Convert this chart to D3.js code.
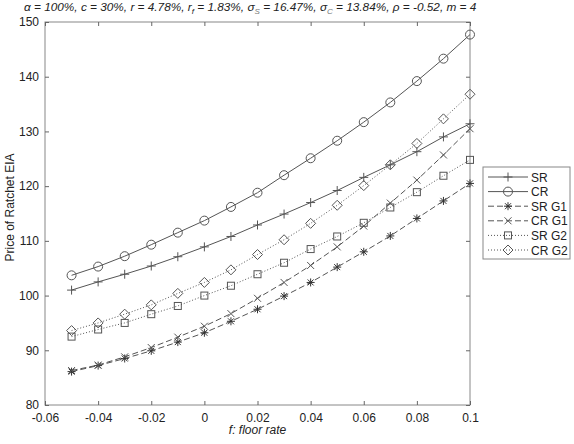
<!DOCTYPE html>
<html>
<head>
<meta charset="utf-8">
<script src="https://cdn.jsdelivr.net/npm/d3@7"></script>
<style>
body { margin: 0; background: #fff; }
text { font-family: Arial, "Liberation Sans", sans-serif; fill: #222; }
</style>
</head>
<body>
<div class="canva"></div>
<script>
const floorRate = [-0.05, -0.04, -0.03, -0.02, -0.01, 0, 0.01, 0.02, 0.03, 0.04, 0.05, 0.06, 0.07, 0.08, 0.09, 0.1];

const SR   = [101.0, 102.5, 103.9, 105.4, 107.1, 108.9, 110.8, 112.9, 114.9, 117.0, 119.2, 121.6, 123.9, 126.3, 129.0, 131.4];
const CR   = [103.7, 105.3, 107.2, 109.3, 111.5, 113.7, 116.2, 118.8, 122.0, 125.1, 128.3, 131.7, 135.3, 139.2, 143.3, 147.7];
const SRG1 = [86.1, 87.2, 88.5, 89.9, 91.5, 93.2, 95.3, 97.5, 99.9, 102.4, 105.2, 108.0, 110.9, 114.1, 117.3, 120.5];
const CRG1 = [86.3, 87.3, 88.8, 90.5, 92.4, 94.4, 96.7, 99.5, 102.4, 105.5, 108.9, 112.7, 116.9, 121.1, 125.7, 130.5];
const SRG2 = [92.5, 93.8, 95.0, 96.6, 98.1, 100.0, 101.8, 103.9, 106.0, 108.5, 110.8, 113.3, 116.1, 118.9, 121.9, 124.8];
const CRG2 = [93.6, 95.0, 96.6, 98.3, 100.4, 102.4, 104.7, 107.5, 110.2, 113.2, 116.5, 120.1, 123.9, 127.8, 132.3, 136.8];

const seriesNames = ["SR", "CR", "SR G1", "CR G1", "SR G2", "CR G2"];
const seriesValues = [SR, CR, SRG1, CRG1, SRG2, CRG2];
const markers = ["plus", "circle", "star", "cross", "square", "diamond"];
const dashes = [null, null, "6,3", "6,3", "1,2", "1,2"];

const xTicks = [-0.06, -0.04, -0.02, 0, 0.02, 0.04, 0.06, 0.08, 0.1];
const yTicks = [80, 90, 100, 110, 120, 130, 140, 150];

const width = 574, height = 444;
const m = {left: 45, right: 470, top: 22, bottom: 405};
const lineColor = "#555";

const svg = d3.select(".canva").append("svg")
    .attr("width", width)
    .attr("height", height);

const x = d3.scaleLinear().domain([-0.06, 0.1]).range([m.left, m.right]);
const y = d3.scaleLinear().domain([80, 150]).range([m.bottom, m.top]);

// box
svg.append("rect")
    .attr("x", m.left).attr("y", m.top)
    .attr("width", m.right - m.left).attr("height", m.bottom - m.top)
    .attr("fill", "none").attr("stroke", "#888");

const fmt = d => d === 0 ? "0" : String(d);

// axes, ticks pointing in
const styleAxis = g => {
    g.select(".domain").remove();
    g.selectAll("line").attr("stroke", "#666");
    g.selectAll("text").attr("font-size", 12).attr("fill", "#222")
        .attr("font-family", "Arial, 'Liberation Sans', sans-serif");
};
svg.append("g").attr("transform", `translate(0,${m.bottom})`)
    .call(d3.axisBottom(x).tickValues(xTicks).tickFormat(fmt).tickSizeInner(-4).tickSizeOuter(0).tickPadding(8))
    .call(styleAxis);
svg.append("g").attr("transform", `translate(0,${m.top})`)
    .call(d3.axisTop(x).tickValues(xTicks).tickFormat("").tickSizeInner(-4).tickSizeOuter(0))
    .call(styleAxis);
svg.append("g").attr("transform", `translate(${m.left},0)`)
    .call(d3.axisLeft(y).tickValues(yTicks).tickSizeInner(-4).tickSizeOuter(0).tickPadding(6))
    .call(styleAxis);
svg.append("g").attr("transform", `translate(${m.right},0)`)
    .call(d3.axisRight(y).tickValues(yTicks).tickFormat("").tickSizeInner(-4).tickSizeOuter(0))
    .call(styleAxis);

// marker drawing
function drawMarker(g, type, cx, cy) {
    const s = g.append("g").attr("transform", `translate(${cx},${cy})`)
        .attr("fill", "none").attr("stroke", lineColor).attr("stroke-width", 1);
    if (type === "circle") s.append("circle").attr("r", 4.5);
    if (type === "square") s.append("rect").attr("x", -3.5).attr("y", -3.5).attr("width", 7).attr("height", 7);
    if (type === "diamond") s.append("path").attr("d", "M0,-5L5,0L0,5L-5,0Z");
    if (type === "plus") s.append("path").attr("d", "M-4.5,0H4.5M0,-4.5V4.5");
    if (type === "cross") s.append("path").attr("d", "M-3.5,-3.5L3.5,3.5M-3.5,3.5L3.5,-3.5");
    if (type === "star") s.append("path").attr("d", "M-4,0H4M0,-4V4M-3,-3L3,3M-3,3L3,-3").attr("stroke", "#333");
}

const line = d3.line().x((d, i) => x(floorRate[i])).y(d => y(d));

seriesValues.forEach((vals, k) => {
    svg.append("path")
        .attr("d", line(vals))
        .attr("fill", "none")
        .attr("stroke", lineColor)
        .attr("stroke-width", 1)
        .attr("stroke-dasharray", dashes[k]);
    vals.forEach((v, i) => drawMarker(svg, markers[k], x(floorRate[i]), y(v)));
});

// legend
const lg = svg.append("g");
lg.append("rect").attr("x", 483).attr("y", 167).attr("width", 87).attr("height", 92)
    .attr("fill", "#fff").attr("stroke", "#888");
seriesNames.forEach((name, k) => {
    const ly = 177 + k * 14.6;
    lg.append("line").attr("x1", 488).attr("x2", 528).attr("y1", ly).attr("y2", ly)
        .attr("stroke", lineColor).attr("stroke-dasharray", dashes[k]);
    drawMarker(lg, markers[k], 508, ly);
    lg.append("text").attr("x", 531).attr("y", ly + 4.5).attr("font-size", 12).text(name);
});

// labels
svg.append("text")
    .attr("transform", `translate(14,${(m.top + m.bottom) / 2 - 6}) rotate(-90)`)
    .attr("text-anchor", "middle").attr("font-size", 12)
    .text("Price of Ratchet EIA");

svg.append("text")
    .attr("x", (m.left + m.right) / 2).attr("y", 434)
    .attr("text-anchor", "middle").attr("font-size", 12).attr("font-style", "italic")
    .text("f: floor rate");

const title = svg.append("text")
    .attr("x", 24).attr("y", 11)
    .attr("text-anchor", "start").attr("font-size", 11.8).attr("font-style", "italic");
title.append("tspan").text("α = 100%, c = 30%, r = 4.78%, r");
title.append("tspan").attr("font-size", 8).attr("dy", 3).text("f");
title.append("tspan").attr("dy", -3).text(" = 1.83%, σ");
title.append("tspan").attr("font-size", 8).attr("dy", 3).attr("fill", "#777").text("S");
title.append("tspan").attr("dy", -3).text(" = 16.47%, σ");
title.append("tspan").attr("font-size", 8).attr("dy", 3).attr("fill", "#777").text("C");
title.append("tspan").attr("dy", -3).text(" = 13.84%, ρ = -0.52, m = 4");
</script>
</body>
</html>
